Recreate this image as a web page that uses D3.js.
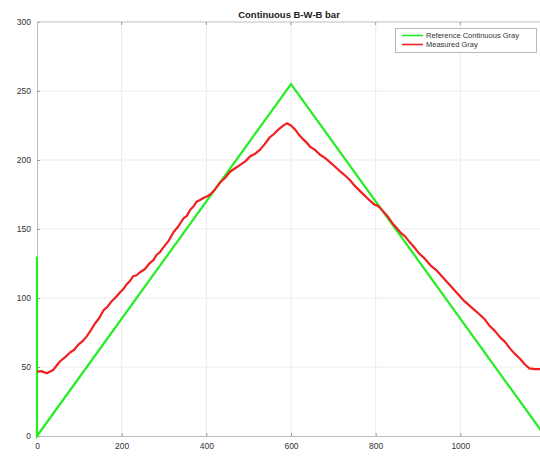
<!DOCTYPE html>
<html><head><meta charset="utf-8">
<script src="https://cdn.jsdelivr.net/npm/d3@7"></script>
<style>body{margin:0;background:#fff;} svg{display:block;font-family:"Liberation Sans",Arial,sans-serif;}</style>
</head><body>
<script>
const title = "Continuous B-W-B bar";
const seriesNames = ["Reference Continuous Gray", "Measured Gray"];
const seriesColors = ["#22ee22", "#f02020"];
const xTicks = [0, 200, 400, 600, 800, 1000];
const yTicks = [0, 50, 100, 150, 200, 250, 300];
const refX = [0, 0, 600, 1200];
const refY = [130, 0, 255, 0];
const measX = [0, 10, 23, 38, 54, 60, 66, 78, 88, 97, 107, 117, 127, 137, 147, 157, 166, 176, 186, 196, 204, 212, 220, 227, 235, 243, 255, 267, 275, 283, 290, 298, 310, 322, 334, 346, 354, 362, 370, 377, 385, 393, 401, 409, 420, 432, 444, 456, 468, 480, 492, 503, 515, 527, 538, 550, 560, 570, 580, 590, 600, 610, 618, 627, 636, 645, 656, 668, 680, 692, 703, 715, 727, 739, 753, 768, 783, 798, 804, 810, 820, 830, 840, 850, 860, 870, 880, 889, 902, 916, 930, 944, 960, 975, 991, 1007, 1027, 1047, 1059, 1070, 1082, 1094, 1106, 1117, 1129, 1141, 1152, 1163, 1176, 1190];
const measY = [46.6, 47, 45.4, 47.8, 54, 55.5, 57, 60.5, 62.5, 66, 68.5, 72, 76.5, 81.5, 85.5, 91, 93.5, 97.5, 100.5, 104, 106.5, 110, 112.5, 115.8, 116.5, 118.5, 121, 125.5, 127.5, 131.5, 133, 136.5, 141, 147.5, 152, 157.7, 159.5, 164, 166.5, 169.8, 171, 172.5, 173.5, 175, 178.5, 183.5, 187, 191.5, 194, 196.5, 199, 202.5, 204.5, 207.5, 211.5, 216.5, 219, 222, 224.5, 226.6, 225, 222, 218.5, 215.5, 213, 209.6, 207.5, 204, 201.5, 198.5, 195.5, 192, 189, 185.5, 180.5, 176, 171.5, 167.5, 167, 165.5, 162, 158.5, 154, 150.5, 147, 144.5, 140.5, 137.5, 132.5, 128.5, 123.5, 120, 114.5, 109.5, 104, 98.5, 93, 87.7, 84, 79.5, 76, 71.5, 68, 63.5, 59.5, 56, 52, 49, 48.5, 48.5];

const W = 540, H = 473;
const svg = d3.select("body").append("svg").attr("width", W).attr("height", H);
const x = d3.scaleLinear().domain([0, 1200]).range([37, 545]);
const y = d3.scaleLinear().domain([0, 300]).range([436, 22]);

// grid
svg.append("g").selectAll("line").data(xTicks.slice(1)).join("line")
  .attr("x1", d => x(d)).attr("x2", d => x(d)).attr("y1", y(0)).attr("y2", y(300))
  .attr("stroke", "#ebebeb").attr("stroke-width", 1);
svg.append("g").selectAll("line").data(yTicks.slice(1, -1)).join("line")
  .attr("x1", x(0)).attr("x2", W).attr("y1", d => y(d)).attr("y2", d => y(d))
  .attr("stroke", "#ebebeb").attr("stroke-width", 1);

// axes
const xAxis = svg.append("g").attr("transform", `translate(0,${y(0)})`)
  .call(d3.axisBottom(x).tickValues(xTicks).tickFormat(d3.format("d")).tickSizeInner(-3).tickSizeOuter(0).tickPadding(7));
const yAxis = svg.append("g").attr("transform", `translate(${x(0)},0)`)
  .call(d3.axisLeft(y).tickValues(yTicks).tickFormat(d3.format("d")).tickSizeInner(-3).tickSizeOuter(0).tickPadding(6));
[xAxis, yAxis].forEach(a => {
  a.select(".domain").attr("stroke", "#bdbdbd");
  a.selectAll(".tick line").attr("stroke", "#9a9a9a");
  a.selectAll("text").attr("font-size", 8.5).attr("fill", "#333").attr("font-family", "Liberation Sans, Arial, sans-serif");
});
svg.append("line").attr("x1", x(0)).attr("x2", W).attr("y1", y(300)).attr("y2", y(300)).attr("stroke", "#bdbdbd");
svg.append("g").selectAll("line").data(xTicks.slice(1)).join("line")
  .attr("x1", d => x(d)).attr("x2", d => x(d)).attr("y1", y(300)).attr("y2", y(300) + 3).attr("stroke", "#9a9a9a");

// lines
const line = d3.line().x(d => x(d[0])).y(d => y(d[1]));
svg.append("path").datum(refX.map((v, i) => [v, refY[i]]))
  .attr("d", line).attr("fill", "none").attr("stroke", seriesColors[0]).attr("stroke-width", 2.2);
svg.append("path").datum(measX.map((v, i) => [v, measY[i]]))
  .attr("d", line).attr("fill", "none").attr("stroke", seriesColors[1]).attr("stroke-width", 2.2).attr("stroke-linejoin", "round");

// title
svg.append("text").attr("x", 289).attr("y", 18).attr("text-anchor", "middle")
  .attr("font-size", 9.5).attr("font-weight", "bold").attr("fill", "#222").text(title);

// legend
const lg = svg.append("g");
lg.append("rect").attr("x", 395.5).attr("y", 28.5).attr("width", 141).attr("height", 24)
  .attr("fill", "#fff").attr("stroke", "#aaa").attr("stroke-width", 0.8);
seriesNames.forEach((n, i) => {
  const yy = 35.5 + i * 9;
  lg.append("line").attr("x1", 402).attr("x2", 423).attr("y1", yy).attr("y2", yy)
    .attr("stroke", seriesColors[i]).attr("stroke-width", 1.6);
  lg.append("text").attr("x", 426).attr("y", yy + 2.8).attr("font-size", 7.5).attr("fill", "#333").text(n);
});
</script>
</body></html>
